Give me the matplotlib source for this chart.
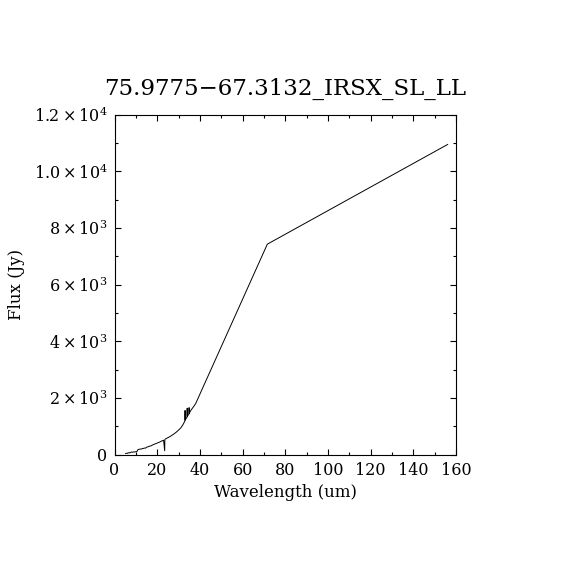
import numpy as np
import matplotlib
matplotlib.use('Agg')
import matplotlib.pyplot as plt
from matplotlib.ticker import MultipleLocator

plt.rcParams['font.family'] = 'DejaVu Serif'
plt.rcParams['mathtext.fontset'] = 'dejavuserif'

# spectrum (um, Jy)
wavelength = [5.2, 5.6, 6.0, 6.5, 7.0, 7.5, 8.0, 8.5, 9.0, 9.5, 10.0, 10.5,
              11.0, 11.5, 12.0, 12.5, 13.0, 13.5, 14.0, 14.5, 15.0, 16, 17,
              18, 19, 20, 21, 22, 23, 23.5, 23.6, 24, 25, 26, 27, 28, 29, 30,
              31, 32, 32.5, 33.0, 33.05, 33.1, 34.0, 34.05, 34.1, 34.9, 34.95,
              35.0, 35.5, 36, 37, 38, 71.6, 156.1]
flux = [40, 50, 45, 70, 60, 80, 95, 85, 100, 95, 105, 110,
        180, 190, 200, 195, 215, 220, 235, 230, 260, 290, 310,
        350, 380, 410, 440, 480, 510, 140, 540, 560, 600, 640, 690, 740, 800, 870,
        940, 1050, 1120, 1200, 1560, 1220, 1330, 1640, 1350, 1440, 1660,
        1460, 1530, 1590, 1690, 1800, 7430, 10950]

xticks = [0, 20, 40, 60, 80, 100, 120, 140, 160]
yticks = [0, 2000, 4000, 6000, 8000, 10000, 12000]
ytick_labels = ['0', r'$2\times10^{3}$', r'$4\times10^{3}$', r'$6\times10^{3}$',
                r'$8\times10^{3}$', r'$1.0\times10^{4}$', r'$1.2\times10^{4}$']

fig = plt.figure(figsize=(5.7, 5.7), dpi=100)
ax = fig.add_axes([0.2009, 0.2023, 0.5991, 0.5965])

ax.plot(wavelength, flux, color='black', lw=0.7)

ax.set_xlim(0, 160)
ax.set_ylim(0, 12000)
ax.set_xticks(xticks)
ax.set_xticklabels([str(t) for t in xticks])
ax.set_yticks(yticks)
ax.set_yticklabels(ytick_labels)
ax.xaxis.set_minor_locator(MultipleLocator(10))
ax.yaxis.set_minor_locator(MultipleLocator(1000))
ax.tick_params(which='both', direction='in', top=True, right=True,
               width=0.8, labelsize=11.5)
ax.tick_params(which='major', length=4.5, pad=5)
ax.tick_params(which='minor', length=2.5)
for s in ax.spines.values():
    s.set_linewidth(0.8)

ax.set_xlabel('Wavelength (um)', fontsize=12)
ax.set_ylabel('Flux (Jy)', fontsize=12, labelpad=6)
ax.set_title('75.9775\u221267.3132_IRSX_SL_LL', fontsize=16.5, pad=14)

fig.savefig('out.png', dpi=100)
